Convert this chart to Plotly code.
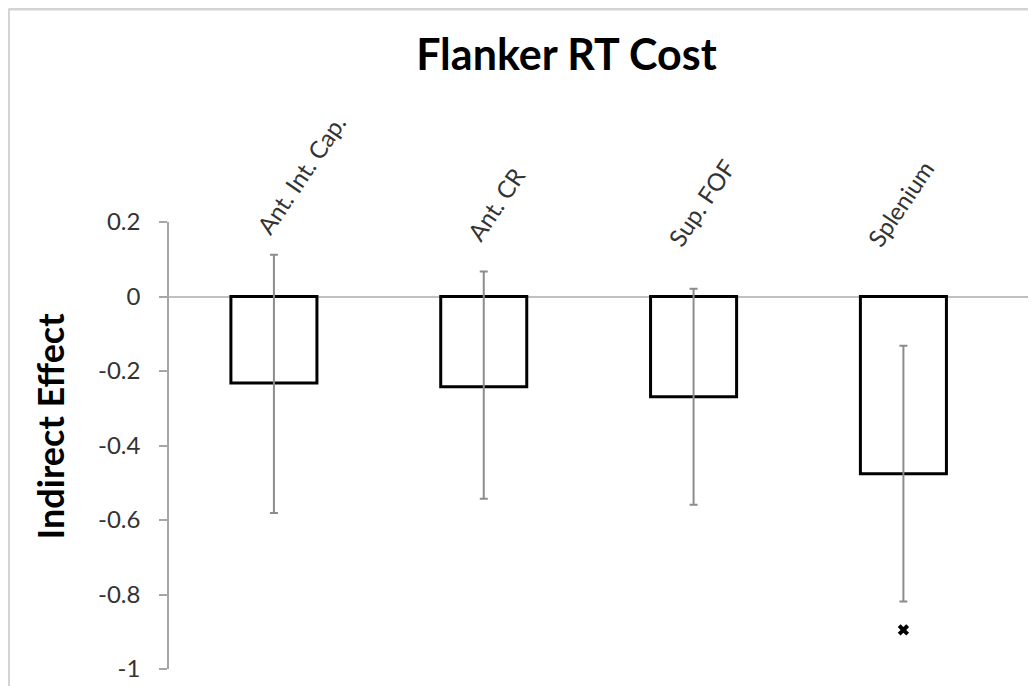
import plotly.graph_objects as go

categories = ["Ant. Int. Cap.", "Ant. CR", "Sup. FOF", "Splenium"]
values = [-0.232, -0.242, -0.269, -0.476]
err_upper = [0.112, 0.067, 0.021, -0.132]
err_lower = [-0.581, -0.543, -0.559, -0.819]
sig_category = ["Splenium"]
sig_value = [-0.895]
y_ticks = [0.2, 0, -0.2, -0.4, -0.6, -0.8, -1]
y_tick_text = ["0.2", "0", "-0.2", "-0.4", "-0.6", "-0.8", "-1"]

# per-label pixel nudges for the rotated category labels (layout only)
label_dx = [-26, -26, -34, -45]
label_dy = [0, -6, -12, -12]

plus = [u - v for u, v in zip(err_upper, values)]
minus = [v - l for v, l in zip(values, err_lower)]

FONT = "Lato, Open Sans, sans-serif"

fig = go.Figure()
fig.add_trace(go.Bar(
    x=categories, y=values, width=0.41,
    marker=dict(color="white", line=dict(color="black", width=3)),
    error_y=dict(type="data", symmetric=False, array=plus, arrayminus=minus,
                 color="#8c8c8c", thickness=2, width=4),
    showlegend=False,
))
fig.add_trace(go.Scatter(
    x=sig_category, y=sig_value, mode="markers",
    marker=dict(symbol="x", size=10, color="black", line=dict(width=0)),
    showlegend=False,
))

for c, dx, dy in zip(categories, label_dx, label_dy):
    fig.add_annotation(x=c, y=0.145, xref="x", yref="y", text=c, showarrow=False,
                       textangle=-56, xanchor="left", yanchor="bottom", xshift=dx, yshift=dy,
                       font=dict(family=FONT, size=24, color="#333333"))

# y-axis title
fig.add_annotation(x=-0.136, y=0.545, xref="paper", yref="paper", text="<b>Indirect Effect</b>",
                   showarrow=False, textangle=-90, xanchor="center", yanchor="middle",
                   font=dict(family=FONT, size=36, color="black"))

# outer chart border (left and top edges visible)
fig.add_shape(type="line", xref="paper", yref="paper", x0=-0.1835, x1=1.2, y0=1.4765, y1=1.4765,
              line=dict(color="#d3d3d3", width=3), layer="below")
fig.add_shape(type="line", xref="paper", yref="paper", x0=-0.1835, x1=-0.1835, y0=-0.2, y1=1.4765,
              line=dict(color="#d3d3d3", width=3), layer="below")

fig.update_layout(
    width=1036, height=686,
    margin=dict(l=161, r=0, t=214, b=25),
    paper_bgcolor="white", plot_bgcolor="white",
    title=dict(text="<b>Flanker RT Cost</b>", x=0.539, xanchor="center", y=0.932, yanchor="middle",
               font=dict(family=FONT, size=43, color="black")),
    bargap=0.59,
)
fig.update_xaxes(range=[-0.5, 3.67], showticklabels=False, showline=False, showgrid=False,
                 zeroline=False, ticks="")
fig.update_yaxes(range=[-1, 0.2], tickvals=y_ticks, ticktext=y_tick_text,
                 showline=True, linecolor="#a6a6a6", linewidth=1.5,
                 ticks="outside", ticklen=8, tickcolor="#a6a6a6", tickwidth=1.5,
                 ticklabelstandoff=14,
                 showgrid=False, zeroline=True, zerolinecolor="#c0c0c0", zerolinewidth=1.5,
                 tickfont=dict(family=FONT, size=24, color="#333333"))

fig.write_html("out.html")
